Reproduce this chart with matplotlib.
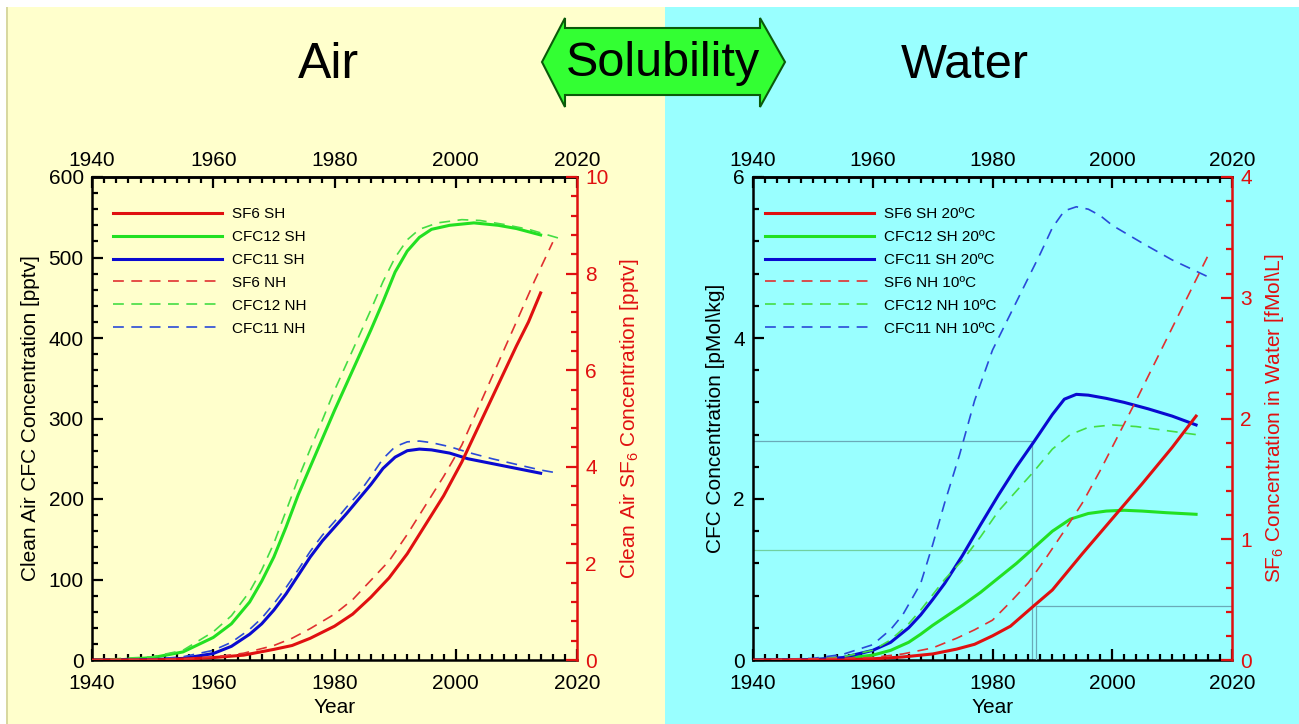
import matplotlib
matplotlib.use("Agg")
import matplotlib.pyplot as plt
from matplotlib.patches import Rectangle, Polygon
from matplotlib.ticker import MultipleLocator, FixedLocator

plt.rcParams["font.family"] = ["Liberation Sans", "DejaVu Sans"]
plt.rcParams["mathtext.fontset"] = "custom"
plt.rcParams["mathtext.rm"] = "Liberation Sans"
plt.rcParams["mathtext.it"] = "Liberation Sans:italic"

# ---------------- Clean air concentrations ----------------
air_cfc12_sh_year = [1940, 1945, 1950, 1955, 1960, 1963, 1966, 1968, 1970, 1972, 1974, 1976,
                     1978, 1980, 1983, 1986, 1988, 1990, 1992, 1994, 1996, 1999, 2003, 2007,
                     2010, 2014]
air_cfc12_sh = [0, 0.5, 3, 10, 28, 45, 72, 98, 128, 165, 205, 240,
                275, 310, 360, 410, 445, 482, 508, 525, 535, 540, 543, 540,
                536, 528]

air_cfc12_nh_year = [1940, 1950, 1955, 1960, 1963, 1966, 1968, 1970, 1972, 1974, 1976, 1978,
                     1980, 1983, 1986, 1988, 1990, 1992, 1994, 1997, 2001, 2004, 2008, 2012,
                     2017]
air_cfc12_nh = [0, 4, 12, 35, 55, 85, 112, 145, 185, 225, 262, 298,
                335, 385, 435, 470, 500, 522, 535, 543, 547, 546, 541, 535,
                524]

air_cfc11_sh_year = [1940, 1950, 1955, 1960, 1963, 1966, 1968, 1970, 1972, 1974, 1976, 1978,
                     1980, 1982, 1984, 1986, 1988, 1990, 1992, 1994, 1996, 1999, 2002, 2006,
                     2010, 2014]
air_cfc11_sh = [0, 0.5, 2, 8, 17, 32, 45, 62, 82, 105, 128, 148,
                165, 182, 200, 218, 238, 252, 260, 262, 261, 257, 250, 244,
                238, 232]

air_cfc11_nh_year = [1940, 1950, 1955, 1960, 1963, 1966, 1968, 1970, 1972, 1974, 1976, 1978,
                     1980, 1982, 1984, 1986, 1988, 1990, 1992, 1994, 1996, 1999, 2002, 2006,
                     2010, 2014, 2017]
air_cfc11_nh = [0, 1, 4, 12, 22, 38, 52, 70, 90, 112, 135, 155,
                172, 190, 207, 228, 250, 265, 271, 272, 270, 265, 258, 250,
                243, 236, 232]

air_sf6_sh_year = [1940, 1950, 1955, 1960, 1965, 1970, 1973, 1976, 1980, 1983, 1986, 1989,
                   1992, 1995, 1998, 2001, 2004, 2007, 2010, 2012, 2014]
air_sf6_sh = [0, 0, 0.02, 0.05, 0.1, 0.22, 0.3, 0.45, 0.7, 0.95, 1.3, 1.7,
              2.2, 2.8, 3.4, 4.1, 4.9, 5.7, 6.5, 7.0, 7.6]

air_sf6_nh_year = [1940, 1955, 1960, 1965, 1970, 1973, 1976, 1980, 1983, 1986, 1989, 1992,
                   1995, 1998, 2001, 2004, 2007, 2010, 2013, 2016]
air_sf6_nh = [0, 0.02, 0.06, 0.14, 0.3, 0.45, 0.65, 0.95, 1.25, 1.65, 2.05, 2.6,
              3.2, 3.8, 4.45, 5.3, 6.15, 7.0, 7.85, 8.65]

# ---------------- Equilibrium water concentrations ----------------
wat_cfc12_sh_year = [1940, 1950, 1955, 1960, 1963, 1966, 1968, 1970, 1972, 1975, 1978, 1981,
                     1984, 1987, 1990, 1993, 1996, 1999, 2002, 2005, 2009, 2014]
wat_cfc12_sh = [0, 0.005, 0.02, 0.06, 0.12, 0.22, 0.32, 0.43, 0.53, 0.68, 0.84, 1.02,
                1.2, 1.4, 1.6, 1.75, 1.82, 1.85, 1.86, 1.85, 1.83, 1.81]

wat_cfc12_nh_year = [1940, 1950, 1955, 1960, 1963, 1966, 1968, 1970, 1972, 1975, 1978, 1981,
                     1984, 1987, 1990, 1993, 1996, 2000, 2004, 2008, 2012, 2015]
wat_cfc12_nh = [0, 0.01, 0.04, 0.12, 0.25, 0.45, 0.62, 0.81, 1.0, 1.24, 1.53, 1.85,
                2.1, 2.35, 2.62, 2.8, 2.89, 2.92, 2.9, 2.86, 2.82, 2.79]

wat_cfc11_sh_year = [1940, 1950, 1955, 1960, 1963, 1966, 1968, 1970, 1972, 1975, 1978, 1981,
                     1984, 1987, 1990, 1992, 1994, 1996, 1999, 2002, 2006, 2010, 2014]
wat_cfc11_sh = [0, 0.005, 0.03, 0.12, 0.22, 0.4, 0.56, 0.75, 0.95, 1.3, 1.68, 2.05,
                2.4, 2.72, 3.05, 3.24, 3.3, 3.29, 3.25, 3.2, 3.12, 3.03, 2.92]

wat_cfc11_nh_year = [1940, 1950, 1955, 1960, 1963, 1965, 1968, 1970, 1972, 1974.5, 1977, 1980,
                     1983, 1985, 1988, 1990, 1992, 1994, 1996, 1998, 2000, 2005, 2010, 2016]
wat_cfc11_nh = [0, 0.02, 0.07, 0.19, 0.38, 0.56, 0.95, 1.43, 1.95, 2.55, 3.22, 3.85,
                4.3, 4.6, 5.05, 5.37, 5.58, 5.63, 5.6, 5.52, 5.4, 5.18, 4.97, 4.76]

wat_sf6_sh_year = [1940, 1955, 1960, 1965, 1970, 1974, 1977, 1980, 1983, 1986.7, 1990, 1995,
                   2000, 2005, 2010, 2014]
wat_sf6_sh = [0, 0, 0.01, 0.025, 0.05, 0.09, 0.13, 0.2, 0.28, 0.44, 0.58, 0.88,
              1.17, 1.46, 1.76, 2.02]

wat_sf6_nh_year = [1940, 1960, 1965, 1970, 1974, 1977, 1980, 1983, 1986, 1989, 1992, 1995,
                   1998, 2001, 2004, 2007, 2010, 2013, 2016]
wat_sf6_nh = [0, 0.02, 0.05, 0.1, 0.18, 0.25, 0.33, 0.48, 0.64, 0.85, 1.07, 1.3,
              1.57, 1.86, 2.15, 2.45, 2.75, 3.05, 3.35]

# Read-off guides at the 1986.6 sampling year (SH 20 degC curves)
guide_year = 1986.6
guide_sf6_year = 1987.2
guide_cfc11 = 2.72
guide_cfc12 = 1.37
guide_sf6 = 0.45

year_ticks = [1940, 1960, 1980, 2000, 2020]
year_minor = list(range(1940, 2021, 2))

RED = "#e01010"
GREEN = "#22e022"
BLUE = "#0a0ad0"
RED_D = "#e03030"
GREEN_D = "#44dd44"
BLUE_D = "#2a4ad8"
DASH = (6.5, 4.5)

W, H = 1299, 724
fig = plt.figure(figsize=(W / 100, H / 100), dpi=100)
fig.patch.set_facecolor("white")

# background panels
fig.patches.append(Rectangle((6 / W, 0), (665 - 6) / W, 1 - 7 / H, transform=fig.transFigure,
                             facecolor="#ffffcc", edgecolor="none", zorder=-10))
fig.patches.append(Rectangle((6 / W, 0), 1.5 / W, 1 - 7 / H, transform=fig.transFigure,
                             facecolor="#d8d8a0", edgecolor="none", zorder=-9))
fig.patches.append(Rectangle((665 / W, 0), 1 - 665 / W, 1 - 7 / H, transform=fig.transFigure,
                             facecolor="#99ffff", edgecolor="none", zorder=-10))

# double arrow banner
arrow_px = [(542, 62), (565, 18), (565, 28), (760, 28), (760, 18), (785, 62),
            (760, 107), (760, 95), (565, 95), (565, 107)]
fig.patches.append(Polygon([(x / W, 1 - y / H) for x, y in arrow_px], closed=True,
                           transform=fig.transFigure, facecolor="#33ff33",
                           edgecolor="#0a5a0a", linewidth=1.5, zorder=5))
fig.text(663 / W, 1 - 64 / H, "Solubility", ha="center", va="center", fontsize=35, zorder=6)
fig.text(328 / W, 1 - 65 / H, "Air", ha="center", va="center", fontsize=36)
fig.text(965 / W, 1 - 65 / H, "Water", ha="center", va="center", fontsize=35)

TICK_FS = 15


def make_axes(left_px, right_px, ymax_l, ymaj_l, ymin_l, ymax_r, ymaj_r, ymin_r):
    ax = fig.add_axes([left_px / W, 1 - 660 / H, (right_px - left_px) / W, (660 - 177) / H])
    ax.set_facecolor("none")
    ax.set_xlim(1940, 2020)
    ax.set_ylim(0, ymax_l)
    ax.xaxis.set_major_locator(FixedLocator(year_ticks))
    ax.xaxis.set_minor_locator(FixedLocator(year_minor))
    ax.yaxis.set_major_locator(MultipleLocator(ymaj_l))
    ax.yaxis.set_minor_locator(MultipleLocator(ymin_l))
    ax.tick_params(which="both", direction="in", top=False, right=False,
                   width=1.6, colors="black", labelsize=TICK_FS)
    ax.tick_params(which="major", length=8, pad=6)
    ax.tick_params(which="minor", length=4)
    ax.tick_params(axis="x", which="major", pad=10)
    for s in ("left", "top", "bottom"):
        ax.spines[s].set_linewidth(1.8)
    ax.spines["right"].set_visible(False)

    # duplicate year scale along the top edge
    top = ax.secondary_xaxis("top")
    top.xaxis.set_major_locator(FixedLocator(year_ticks))
    top.xaxis.set_minor_locator(FixedLocator(year_minor))
    top.tick_params(which="both", direction="in", width=1.6, labelsize=TICK_FS)
    top.tick_params(which="major", length=8, pad=5)
    top.tick_params(which="minor", length=4)
    top.spines["top"].set_linewidth(1.8)

    ax2 = ax.twinx()
    ax2.set_ylim(0, ymax_r)
    ax2.yaxis.set_major_locator(MultipleLocator(ymaj_r))
    ax2.yaxis.set_minor_locator(MultipleLocator(ymin_r))
    ax2.tick_params(which="both", direction="in", width=1.6, colors=RED, labelsize=TICK_FS)
    ax2.tick_params(which="major", length=8, pad=6)
    ax2.tick_params(which="minor", length=4)
    for s in ("left", "top", "bottom"):
        ax2.spines[s].set_visible(False)
    ax2.spines["right"].set_color(RED)
    ax2.spines["right"].set_linewidth(1.8)
    ax.set_xlabel("Year", fontsize=TICK_FS, labelpad=4)
    return ax, ax2


LEG = dict(loc="upper left", frameon=False, fontsize=11, handlelength=7.1,
           handletextpad=0.65, labelspacing=0.58, borderaxespad=0)

# ---------------- Air panel ----------------
axA, axA2 = make_axes(92, 577, 600, 100, 20, 10, 2, 0.4)
k0, = axA2.plot(air_sf6_sh_year, air_sf6_sh, color=RED, lw=2.2, label="SF6 SH")
k1, = axA.plot(air_cfc12_sh_year, air_cfc12_sh, color=GREEN, lw=2.2, label="CFC12 SH")
k2, = axA.plot(air_cfc11_sh_year, air_cfc11_sh, color=BLUE, lw=2.2, label="CFC11 SH")
k3, = axA2.plot(air_sf6_nh_year, air_sf6_nh, color=RED_D, lw=1.2, dashes=DASH, label="SF6 NH")
k4, = axA.plot(air_cfc12_nh_year, air_cfc12_nh, color=GREEN_D, lw=1.2, dashes=DASH,
               label="CFC12 NH")
k5, = axA.plot(air_cfc11_nh_year, air_cfc11_nh, color=BLUE_D, lw=1.2, dashes=DASH,
               label="CFC11 NH")
axA.set_ylabel("Clean Air CFC Concentration [pptv]", fontsize=TICK_FS, labelpad=6)
axA2.set_ylabel("Clean Air SF$_6$ Concentration [pptv]", fontsize=TICK_FS, color=RED,
                labelpad=7)
axA.legend(handles=[k0, k1, k2, k3, k4, k5], bbox_to_anchor=(0.031, 0.95), **LEG)

# ---------------- Water panel ----------------
axW, axW2 = make_axes(753, 1232, 6, 2, 0.4, 4, 1, 0.2)
guide_col = "#6aaab8"
axW.plot([1940, guide_year, guide_year], [guide_cfc11, guide_cfc11, 0], color=guide_col, lw=0.9)
axW.plot([1940, guide_year], [guide_cfc12, guide_cfc12], color="#70d0a0", lw=0.9)
axW2.plot([guide_sf6_year, guide_sf6_year, 2020], [0, guide_sf6, guide_sf6], color=guide_col,
          lw=0.9)

m0, = axW2.plot(wat_sf6_sh_year, wat_sf6_sh, color=RED, lw=2.2, label="SF6 SH 20ºC")
m1, = axW.plot(wat_cfc12_sh_year, wat_cfc12_sh, color=GREEN, lw=2.2, label="CFC12 SH 20ºC")
m2, = axW.plot(wat_cfc11_sh_year, wat_cfc11_sh, color=BLUE, lw=2.2, label="CFC11 SH 20ºC")
m3, = axW2.plot(wat_sf6_nh_year, wat_sf6_nh, color=RED_D, lw=1.2, dashes=DASH,
                label="SF6 NH 10ºC")
m4, = axW.plot(wat_cfc12_nh_year, wat_cfc12_nh, color=GREEN_D, lw=1.2, dashes=DASH,
               label="CFC12 NH 10ºC")
m5, = axW.plot(wat_cfc11_nh_year, wat_cfc11_nh, color=BLUE_D, lw=1.2, dashes=DASH,
               label="CFC11 NH 10ºC")
axW.set_ylabel("CFC Concentration [pMol\\kg]", fontsize=TICK_FS, labelpad=6)
axW2.set_ylabel("SF$_6$ Concentration in Water [fMol\\L]", fontsize=TICK_FS, color=RED,
                labelpad=8)
axW.legend(handles=[m0, m1, m2, m3, m4, m5], bbox_to_anchor=(0.0125, 0.95), **LEG)

fig.savefig("out.png", dpi=100, facecolor=fig.get_facecolor())
